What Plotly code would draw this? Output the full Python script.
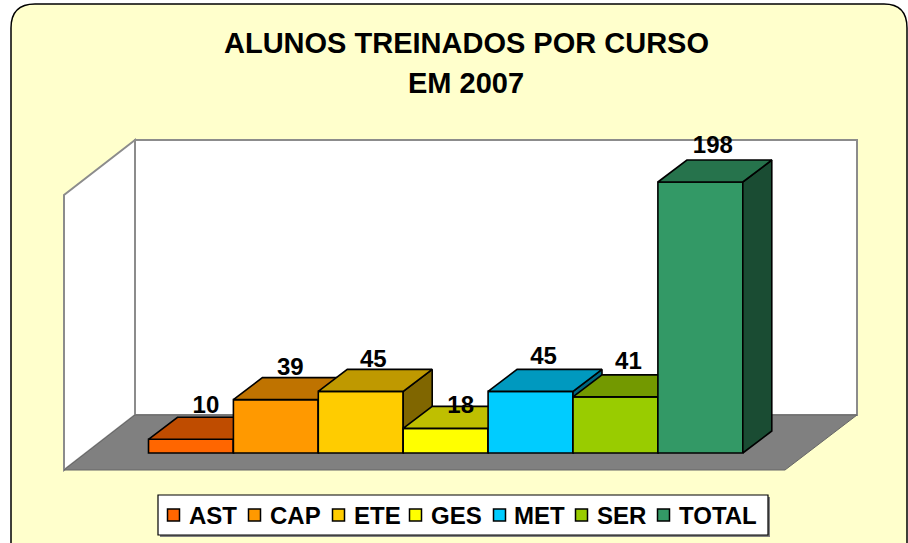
import plotly.graph_objects as go

# ---- data ----
categories = ["AST", "CAP", "ETE", "GES", "MET", "SER", "TOTAL"]
values = [10, 39, 45, 18, 45, 41, 198]
colors = ["#FF6600", "#FF9900", "#FFCC00", "#FFFF00", "#00CCFF", "#99CC00", "#339966"]
title_lines = ["ALUNOS TREINADOS POR CURSO", "EM 2007"]

# ---- layout constants (pixels on the 908x543 canvas) ----
W, H = 908, 543
X0_PX, Y0_PX = 148.5, 453.0     # origin of the first bar's front corner
UNIT_X, UNIT_Y = 84.9, 271 / 198
DEPTH_PX = (29, 22)
label_nudge_px = [(0.5, -10), (0, -9), (-2, -8), (0.5, 1), (-1.5, -11), (-1.5, -12), (-2, -13)]
legend_swatch_px = [173.5, 254.5, 338.5, 415.5, 499.5, 581.5, 663.5]
legend_text_px = [189, 270, 354, 431, 514, 597, 679]
LINE = 1.6
FONT = "Liberation Sans, Arial, sans-serif"

def dx(px): return (px - X0_PX) / UNIT_X
def dy(py): return (Y0_PX - py) / UNIT_Y
def shade(hex_color, k):
    r, g, b = (int(hex_color[i:i + 2], 16) for i in (1, 3, 5))
    return f"rgb({r * k:.0f},{g * k:.0f},{b * k:.0f})"
def poly(points, **kw):
    path = "M" + " L".join(f"{dx(x)},{dy(y)}" for x, y in points) + " Z"
    return dict(type="path", path=path, xref="x", yref="y", layer="below", **kw)

DX, DY = DEPTH_PX[0] / UNIT_X, DEPTH_PX[1] / UNIT_Y
x_range = [dx(0), dx(W)]
y_range = [dy(H), dy(0)]

fig = go.Figure()

# one overlaid axis pair per bar so that each later bar paints over the earlier one
for i, (cat, v, c) in enumerate(zip(categories, values, colors)):
    n = i + 1
    xa, ya = ("x", "y") if n == 1 else (f"x{n}", f"y{n}")
    left, right = i, i + 1
    fig.add_trace(go.Bar(x=[i + 0.5], y=[v], width=[1], name=cat, xaxis=xa, yaxis=ya,
                         marker=dict(color=c, line=dict(color="black", width=LINE)),
                         showlegend=False, hoverinfo="skip"))
    fig.add_trace(go.Scatter(x=[right, right + DX, right + DX, right, right],
                             y=[0, DY, v + DY, v, 0],
                             mode="lines", fill="toself", fillcolor=shade(c, 0.5),
                             line=dict(color="black", width=LINE), xaxis=xa, yaxis=ya,
                             showlegend=False, hoverinfo="skip"))
    fig.add_trace(go.Scatter(x=[left, left + DX, right + DX, right, left],
                             y=[v, v + DY, v + DY, v, v],
                             mode="lines", fill="toself", fillcolor=shade(c, 0.75),
                             line=dict(color="black", width=LINE), xaxis=xa, yaxis=ya,
                             showlegend=False, hoverinfo="skip"))
    axis = dict(range=x_range, domain=[0, 1], visible=False, fixedrange=True)
    yaxis = dict(range=y_range, domain=[0, 1], visible=False, fixedrange=True)
    if n > 1:
        axis.update(overlaying="x", anchor=f"y{n}")
        yaxis.update(overlaying="y", anchor=f"x{n}")
    fig.update_layout({f"xaxis{'' if n == 1 else n}": axis, f"yaxis{'' if n == 1 else n}": yaxis})

top_axes = (f"x{len(values)}", f"y{len(values)}")

# value labels
fig.add_trace(go.Scatter(
    x=[i + 0.5 + DX / 2 + label_nudge_px[i][0] / UNIT_X for i in range(len(values))],
    y=[v + DY - label_nudge_px[i][1] / UNIT_Y for i, v in enumerate(values)],
    text=[str(v) for v in values], mode="text", textposition="middle center",
    textfont=dict(family=FONT, size=24, color="black", weight="bold"),
    xaxis=top_axes[0], yaxis=top_axes[1], showlegend=False, hoverinfo="skip", cliponaxis=False))

# hand-laid legend swatches
fig.add_trace(go.Scatter(
    x=[dx(p) for p in legend_swatch_px], y=[dy(515)] * len(values), mode="markers",
    marker=dict(symbol="square", size=12, color=colors, line=dict(color="black", width=1.5)),
    xaxis=top_axes[0], yaxis=top_axes[1], showlegend=False, hoverinfo="skip"))

shapes = [
    # chart area
    dict(type="path", xref="x", yref="y", layer="below", fillcolor="#FFFFCC",
         line=dict(color="black", width=1.5),
         path=(f"M{dx(11)},{dy(548)} L{dx(11)},{dy(28)} "
               f"Q{dx(11)},{dy(4)} {dx(35)},{dy(4)} "
               f"L{dx(884)},{dy(4)} Q{dx(907)},{dy(4)} {dx(907)},{dy(28)} "
               f"L{dx(907)},{dy(548)} Z")),
    # walls and floor
    poly([(135, 140), (857, 140), (857, 415), (135, 415)], fillcolor="white",
         line=dict(color="#8C8C8C", width=2)),
    poly([(64, 195), (135, 140), (135, 415), (64, 470)], fillcolor="white",
         line=dict(color="#8C8C8C", width=2)),
    poly([(64, 470), (135, 415), (857, 415), (785, 470)], fillcolor="#808080",
         line=dict(color="#666666", width=1)),
    # legend box with its shadow
    poly([(160, 497), (770, 497), (770, 537), (160, 537)], fillcolor="#808080", line=dict(width=0)),
    poly([(158, 495), (768, 495), (768, 535), (158, 535)], fillcolor="white",
         line=dict(color="black", width=1.2)),
]

annotations = [
    dict(x=466 / W, y=1 - cy / H, xref="paper", yref="paper", text=f"<b>{t}</b>", showarrow=False,
         xanchor="center", yanchor="middle", font=dict(family=FONT, size=29, color="black"))
    for t, cy in zip(title_lines, (43, 83))
]
annotations += [
    dict(x=p / W, y=1 - 515 / H, xref="paper", yref="paper", text=f"<b>{c}</b>", showarrow=False,
         xanchor="left", yanchor="middle", xshift=-2, font=dict(family=FONT, size=24, color="black"))
    for p, c in zip(legend_text_px, categories)
]

fig.update_layout(width=W, height=H, autosize=False, margin=dict(l=0, r=0, t=0, b=0),
                  paper_bgcolor="white", plot_bgcolor="rgba(0,0,0,0)", showlegend=False,
                  shapes=shapes, annotations=annotations, barmode="overlay")

fig.write_html("out.html", config={"displayModeBar": False, "responsive": False},
               post_script="document.body.style.margin='0';document.body.style.overflow='hidden';")
